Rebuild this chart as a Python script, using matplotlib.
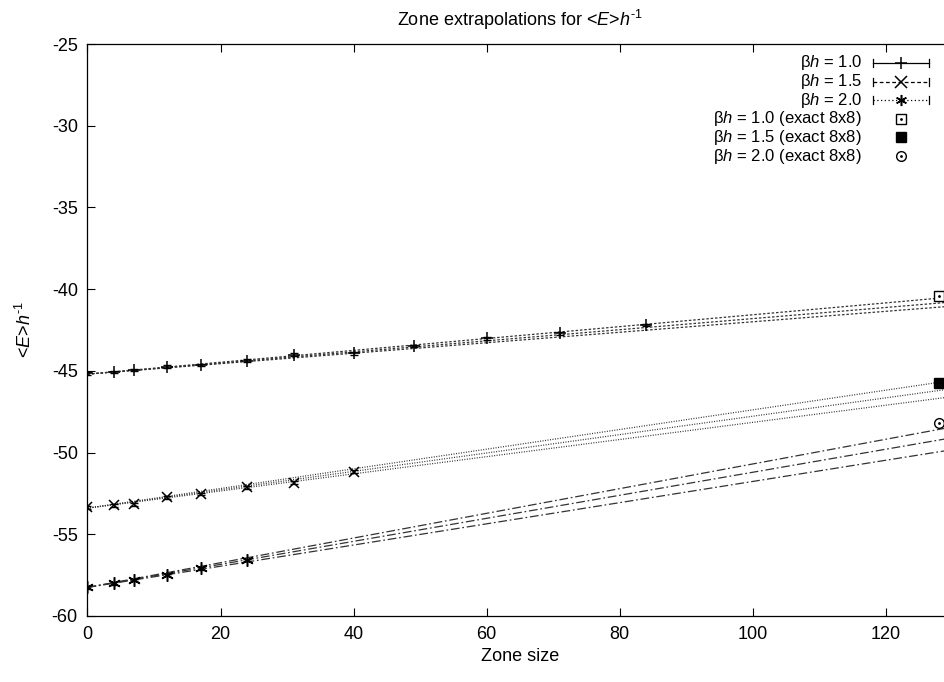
import matplotlib
matplotlib.use('Agg')
import matplotlib.pyplot as plt
from matplotlib.lines import Line2D
import numpy as np

plt.rcParams['font.family'] = ['Liberation Sans', 'DejaVu Sans']
plt.rcParams['mathtext.fontset'] = 'custom'
plt.rcParams['mathtext.rm'] = 'Liberation Sans'
plt.rcParams['mathtext.it'] = 'Liberation Sans:italic'
plt.rcParams['axes.unicode_minus'] = False
plt.rcParams['font.size'] = 13

# extrapolated <E>/h per zone size
zone_10 = [0, 4, 7, 12, 17, 24, 31, 40, 49, 60, 71, 84]
e_10 = [-45.15, -45.07, -44.95, -44.75, -44.65, -44.38, -44.0, -43.93, -43.48, -43.01, -42.71, -42.2]
zone_15 = [0, 4, 7, 12, 17, 24, 31, 40]
e_15 = [-53.36, -53.23, -53.17, -52.74, -52.54, -52.13, -51.85, -51.17]
zone_20 = [0, 4, 7, 12, 17, 24]
e_20 = [-58.25, -58.0, -57.8, -57.5, -57.09, -56.58]
err = 0.08

# exact 8x8 results (zone size 128)
exact_zone = 128
exact_10 = -40.4
exact_15 = -45.77
exact_20 = -48.22

# fit lines: value at zone size 0 and at 128
fit_10 = [(-45.2, -40.55), (-45.2, -40.85), (-45.2, -41.1)]
fit_15 = [(-53.4, -45.7), (-53.4, -46.2), (-53.4, -46.68)]
fit_20 = [(-58.25, -48.58), (-58.25, -49.23), (-58.25, -49.95)]

W, H = 945, 682
fig = plt.figure(figsize=(W / 100, H / 100), dpi=100)
ax = fig.add_axes([87.5 / W, 66 / H, 865 / W, 572 / H])

xs = np.array([0, 130])
for fits, ls in [(fit_10, (0, (2, 1.5))), (fit_15, (0, (0.8, 1.2))), (fit_20, (0, (7, 2.2, 1.4, 2.2)))]:
    for y0, y1 in fits:
        ax.plot(xs, y0 + (y1 - y0) / 128 * xs, color='#333333', lw=0.9, ls=ls)

asterisk = (6, 2, 0)
for zs, es, mk, ms in [(zone_10, e_10, '+', 8), (zone_15, e_15, 'x', 7), (zone_20, e_20, asterisk, 9)]:
    ax.errorbar(zs, es, yerr=err, fmt='none', ecolor='black', elinewidth=1, capsize=3)
    ax.plot(zs, es, ls='none', marker=mk, color='black', ms=ms, mew=1.1)

ax.plot(exact_zone, exact_10, 's', mfc='white', mec='black', ms=7, mew=1, clip_on=False)
ax.plot(exact_zone, exact_10, '.', color='black', ms=2, clip_on=False)
ax.plot(exact_zone, exact_15, 's', color='black', ms=7, clip_on=False)
ax.plot(exact_zone, exact_20, 'o', mfc='white', mec='black', ms=7, mew=1, clip_on=False)
ax.plot(exact_zone, exact_20, '.', color='black', ms=2, clip_on=False)

ax.set_xlim(0, 130)
ax.set_ylim(-60, -25)
ax.set_xticks(range(0, 121, 20))
ax.set_yticks(range(-60, -24, 5))
ax.tick_params(direction='in', top=True, right=True, length=6, width=0.8, pad=7)
for s in ax.spines.values():
    s.set_linewidth(0.9)

ax.set_title(r'Zone extrapolations for <$E$>$h^{\text{-}1}$', fontsize=13, pad=13)
ax.set_xlabel('Zone size')
ax.set_ylabel(r'<$E$>$h^{\text{-}1}$', labelpad=12)

# gnuplot style key, top right
def fx(px):
    return px / W

def fy(py):
    return 1 - py / H

key_labels = ['β$h$ = 1.0', 'β$h$ = 1.5', 'β$h$ = 2.0',
              'β$h$ = 1.0 (exact 8x8)', 'β$h$ = 1.5 (exact 8x8)', 'β$h$ = 2.0 (exact 8x8)']
key_styles = ['-', (0, (3, 2)), (0, (1, 2))]
key_marks = ['+', 'x', asterisk]
row_y = [63 + 18.6 * i for i in range(6)]
for i, lab in enumerate(key_labels):
    y = fy(row_y[i])
    fig.text(fx(862), y, lab, ha='right', va='center', fontsize=12)
    if i < 3:
        fig.add_artist(Line2D([fx(873), fx(929)], [y, y], color='black', lw=0.9,
                              ls=key_styles[i], transform=fig.transFigure))
        for cx in (873, 929):
            fig.add_artist(Line2D([fx(cx), fx(cx)], [y - 4 / H, y + 4 / H], color='black',
                                  lw=0.9, transform=fig.transFigure))
        fig.add_artist(Line2D([fx(901)], [y], marker=key_marks[i], color='black', ms=8,
                              mew=1.1, transform=fig.transFigure))
    elif i == 4:
        fig.add_artist(Line2D([fx(901)], [y], marker='s', color='black', ms=7,
                              transform=fig.transFigure))
    else:
        fig.add_artist(Line2D([fx(901)], [y], marker='s' if i == 3 else 'o', mfc='white',
                              mec='black', ms=7, transform=fig.transFigure))
        fig.add_artist(Line2D([fx(901)], [y], marker='.', color='black', ms=2,
                              transform=fig.transFigure))

fig.savefig('out.png', dpi=100)
